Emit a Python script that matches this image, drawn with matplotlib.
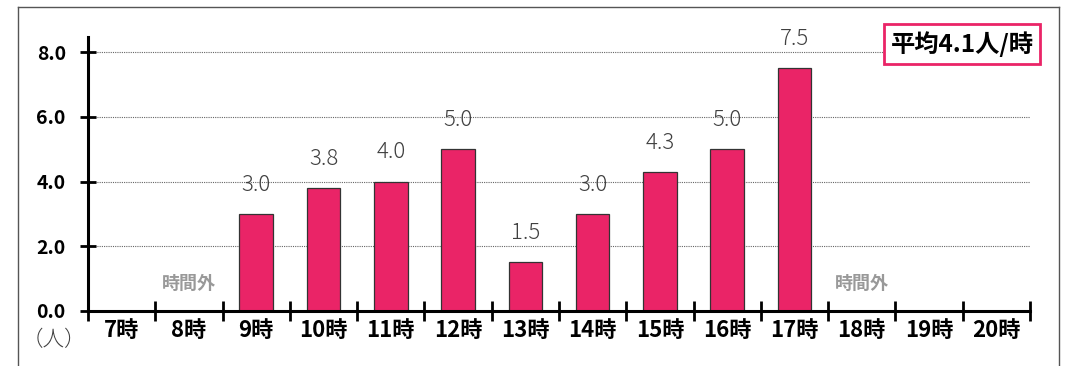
import numpy as np
import matplotlib.pyplot as plt
from matplotlib.lines import Line2D
from matplotlib.ticker import FixedLocator

plt.rcParams['font.family'] = ['Noto Sans CJK JP', 'DejaVu Sans']

# 時間帯ごとの平均人数（時間外は None）
hours = ["7時", "8時", "9時", "10時", "11時", "12時", "13時",
         "14時", "15時", "16時", "17時", "18時", "19時", "20時"]
people = [None, None, 3.0, 3.8, 4.0, 5.0, 1.5, 3.0, 4.3, 5.0, 7.5, None, None, None]
closed_hours = ["8時", "18時"]
average = 4.1

bar_color = "#EA2467"

fig = plt.figure(figsize=(10.67, 3.66), dpi=100)
ax = fig.add_axes([88 / 1067, 1 - 311 / 366, 942 / 1067, 274 / 366])

x = np.arange(len(hours))
for xi, v in zip(x, people):
    if v is None:
        continue
    ax.bar(xi, v, width=0.5, color=bar_color, edgecolor="#333333", linewidth=0.9, zorder=3)
    ax.text(xi, v + 0.9, f"{v:.1f}", ha="center", va="center",
            fontsize=16, color="#404040", fontweight="light", zorder=4)

for h in closed_hours:
    ax.text(hours.index(h), 0.85, "時間外", ha="center", va="center",
            fontsize=13, color="#999999", fontweight="bold")

ax.set_xlim(-0.5, len(hours) - 0.5)
ax.set_ylim(0, 8.47)

ax.set_yticks([0, 2, 4, 6, 8])
ax.set_yticklabels([f"{v:.1f}" for v in [0, 2, 4, 6, 8]], fontsize=14, fontweight="bold")
ax.set_xticks(x)
ax.set_xticklabels(hours, fontsize=16, fontweight="bold")
ax.xaxis.set_minor_locator(FixedLocator(np.arange(len(hours) + 1) - 0.5))

ax.tick_params(axis="x", which="major", length=0, pad=6)
ax.tick_params(axis="x", which="minor", direction="inout", length=14, width=2)
ax.tick_params(axis="y", which="major", direction="inout", length=12, width=2, pad=10)

ax.grid(axis="y", linestyle=(0, (1, 1)), color="#666666", linewidth=0.8, zorder=0)

for side in ["top", "right"]:
    ax.spines[side].set_visible(False)
for side in ["left", "bottom"]:
    ax.spines[side].set_linewidth(2.2)
    ax.spines[side].set_zorder(5)

# 単位
fig.text(54 / 1067, 1 - 340 / 366, "（人）", ha="center", va="center",
         fontsize=15.5, color="#404040", fontweight="light")

# 平均の囲み
fig.text(962 / 1067, 1 - 44 / 366, "平均4.1人/時", ha="center", va="center",
         fontsize=17.5, fontweight="bold", color="black",
         bbox=dict(boxstyle="square,pad=0.28", facecolor="white",
                   edgecolor=bar_color, linewidth=2))

# 外枠（下辺なし）
frame_kw = dict(color="#555555", linewidth=1, transform=fig.transFigure)
l, r, t = 18 / 1067, 1059 / 1067, 1 - 7 / 366
fig.add_artist(Line2D([l, l], [0, t], **frame_kw))
fig.add_artist(Line2D([l, r], [t, t], **frame_kw))
fig.add_artist(Line2D([r, r], [0, t], **frame_kw))

fig.savefig("out.png", dpi=100)
